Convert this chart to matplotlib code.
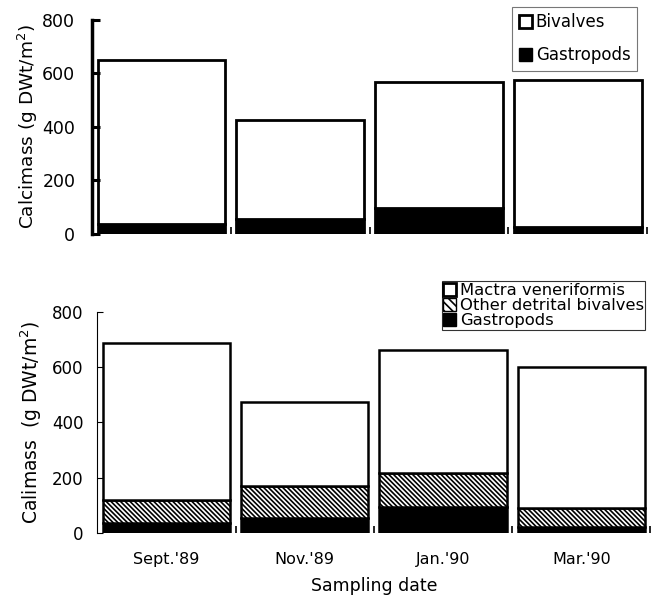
import matplotlib.pyplot as plt
from matplotlib.patches import Patch
import numpy as np

plt.rcParams["font.family"] = ["DejaVu Sans"]
plt.rcParams["hatch.linewidth"] = 1.2

dates = ["Sept.'89", "Nov.'89", "Jan.'90", "Mar.'90"]

# upper panel: bivalves vs gastropods
gastropods_a = [38, 55, 97, 25]
bivalves_a = [612, 372, 471, 551]

# lower panel: bivalves split into Mactra and the rest
gastropods_b = [37, 52, 95, 22]
other_bivalves_b = [82, 116, 122, 66]
mactra_b = [569, 304, 445, 511]

x = np.arange(len(dates))
w = 0.92
hatch = "\\" * 7

fig = plt.figure(figsize=(6.57, 5.98), dpi=100)
ax1 = fig.add_axes([0.140, 0.609, 0.845, 0.358])
ax2 = fig.add_axes([0.148, 0.109, 0.842, 0.370])

# top
ax1.bar(x, gastropods_a, w, color="black", edgecolor="black", linewidth=2)
ax1.bar(x, bivalves_a, w, bottom=gastropods_a, color="white", edgecolor="black", linewidth=2)

# bottom
ax2.bar(x, gastropods_b, w, color="black", edgecolor="black", linewidth=1.8)
bot = np.array(gastropods_b)
ax2.bar(x, other_bivalves_b, w, bottom=bot, color="white", edgecolor="black",
        hatch=hatch, linewidth=1.8)
bot = bot + np.array(other_bivalves_b)
ax2.bar(x, mactra_b, w, bottom=bot, color="white", edgecolor="black", linewidth=1.8)

for ax in (ax1, ax2):
    ax.set_xlim(-0.5, 3.5)
    ax.set_ylim(0, 800)
    ax.set_yticks([0, 200, 400, 600, 800])
    for s in ("top", "right", "bottom"):
        ax.spines[s].set_visible(False)
    ax.set_xticks(x)
    ax.set_xticks(x + 0.5, minor=True)
    ax.tick_params(axis="x", which="major", length=0)
    ax.tick_params(axis="x", which="minor", direction="in", length=5, width=1.2)

ax1.spines["left"].set_linewidth(2.5)
ax1.tick_params(axis="y", direction="in", length=6, width=2.2, pad=12, labelsize=12.5)
ax1.set_xticklabels([])
ax1.set_ylabel("Calcimass (g DWt/m$^2$)", fontsize=13.3)
ax1.yaxis.set_label_coords(-0.094, 0.5)

ax2.spines["left"].set_linewidth(0.8)
ax2.tick_params(axis="y", direction="in", length=4, width=0.8, pad=10, labelsize=12)
ax2.set_xticklabels(dates, fontsize=11.5)
ax2.tick_params(axis="x", which="major", pad=14)
ax2.set_ylabel("Calimass  (g DWt/m$^2$)", fontsize=13.5)
ax2.yaxis.set_label_coords(-0.097, 0.5)
ax2.set_xlabel("Sampling date", fontsize=12.5, labelpad=7)

leg1 = ax1.legend(
    handles=[Patch(facecolor="white", edgecolor="black", linewidth=2, label="Bivalves"),
             Patch(facecolor="black", edgecolor="black", label="Gastropods")],
    loc="upper right", bbox_to_anchor=(0.982, 1.061), fontsize=12, frameon=True, fancybox=False,
    handlelength=0.8, handleheight=0.8, handletextpad=0.2, labelspacing=0.9,
    borderpad=0.4, borderaxespad=0)
leg1.get_frame().set_edgecolor("#555555")
leg1.get_frame().set_linewidth(0.8)

leg2 = ax2.legend(
    handles=[Patch(facecolor="white", edgecolor="black", linewidth=2, label="Mactra veneriformis"),
             Patch(facecolor="white", edgecolor="black", hatch="\\\\\\\\", label="Other detrital bivalves"),
             Patch(facecolor="black", edgecolor="black", label="Gastropods")],
    loc="upper right", bbox_to_anchor=(0.991, 1.136), fontsize=11.8, frameon=True, fancybox=False,
    handlelength=0.8, handleheight=0.8, handletextpad=0.2, labelspacing=0.0,
    borderpad=0.1, borderaxespad=0)
leg2.get_frame().set_edgecolor("black")
leg2.get_frame().set_linewidth(0.8)

fig.savefig("out.png", dpi=100)
